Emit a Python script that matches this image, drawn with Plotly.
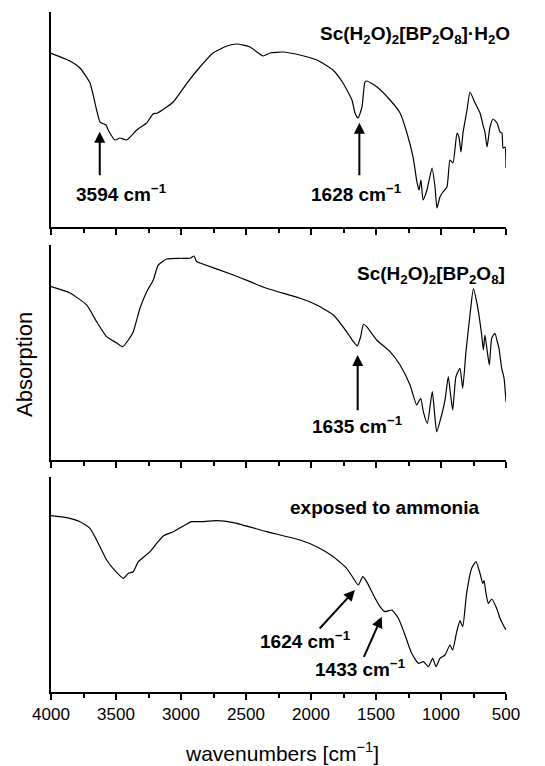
import plotly.graph_objects as go

# ---- data (wavenumber in cm^-1, absorption in arbitrary units) ----
wn_hydrate = [4000, 3854, 3777, 3700, 3649, 3623, 3577, 3560, 3508, 3470, 3418, 3341, 3264, 3215, 3180,
              3060, 2954, 2854, 2754, 2646, 2569, 2469, 2369, 2315, 2215, 2085, 1954, 1831, 1754, 1685,
              1662, 1638, 1608, 1585, 1569, 1492, 1392, 1315, 1262, 1215, 1185, 1169, 1154, 1138, 1108,
              1069, 1046, 1031, 1008, 985, 954, 931, 908, 877, 862, 846, 831, 800, 777, 738, 700, 677,
              662, 646, 623, 600, 569, 546, 531, 523, 508, 500]
ab_hydrate = [173.7, 166, 159, 144, 117, 105, 102, 97, 87, 89, 87, 97, 104, 113, 114,
              125, 144, 160, 174, 181, 183, 180, 171, 174, 175, 172, 167, 157, 144, 127,
              114, 109, 120, 145, 146, 140, 127, 114, 94, 70, 45, 37, 47, 27, 37,
              59, 40, 19, 30, 35, 40, 67, 64, 94, 90, 75, 94, 117, 135, 124, 114, 102,
              95, 80, 100, 108, 104, 95, 94, 79, 80, 59]

wn_dry = [4000, 3854, 3726, 3649, 3572, 3495, 3449, 3405, 3367, 3315, 3264, 3213, 3175, 3110, 3008,
          2931, 2900, 2880, 2854, 2597, 2341, 2085, 1956, 1828, 1726, 1674, 1644, 1618, 1597, 1572,
          1495, 1392, 1315, 1238, 1187, 1156, 1136, 1105, 1067, 1046, 1033, 995, 969, 944, 926,
          910, 885, 854, 833, 808, 777, 751, 721, 687, 674, 662, 644, 628, 610, 585, 567, 554,
          533, 515, 500]
ab_dry = [173.3, 167, 155, 138.3, 123.3, 117, 113.3, 120, 128.3, 152, 168.3, 180, 195, 201, 201.7,
          201.7, 204, 198.3, 197, 185, 171.7, 161.7, 155, 145, 128.3, 118.3, 114, 123.3, 135.7, 133.3,
          120, 108.3, 95, 75, 55, 61.7, 48.3, 36.7, 68.3, 41.7, 28.3, 45, 60, 83.3, 65,
          50, 83.3, 91.7, 71.7, 108.3, 145, 171, 155, 125, 110, 125, 108.3, 95, 121.7, 126.7, 118.3, 111.7,
          91.7, 81.7, 58.3]

wn_nh3 = [4000, 3879, 3777, 3700, 3649, 3572, 3508, 3444, 3405, 3367, 3328, 3238, 3187, 3136, 3059,
          2982, 2918, 2854, 2726, 2597, 2341, 2085, 1956, 1828, 1726, 1674, 1636, 1602, 1572, 1520,
          1469, 1431, 1379, 1328, 1277, 1226, 1174, 1136, 1097, 1064, 1038, 1008, 969, 931, 910,
          879, 854, 833, 803, 764, 731, 700, 679, 669, 654, 636, 610, 572, 546, 521, 500]
ab_nh3 = [176.3, 174.3, 170.3, 163.7, 152, 132, 121.3, 113.7, 118.7, 120.3, 130.3, 140.3, 148.7, 156, 160.3,
          166, 170.3, 170.3, 171.3, 169.3, 160.3, 152, 145.3, 135.3, 123.7, 113.7, 107, 115.3, 110.3, 97,
          85.3, 80.3, 82, 73.7, 57, 38.7, 28.7, 30.3, 25.3, 33.7, 25.3, 33.7, 37, 47, 42,
          60.3, 71.3, 65.3, 98.7, 123.7, 130.3, 118.7, 108.7, 111.3, 98.7, 88.7, 93, 83.7, 73.7, 67, 62]

tick_vals = [4000, 3500, 3000, 2500, 2000, 1500, 1000, 500]
tick_text = ["4000", "3500", "3000", "2500", "2000", "1500", "1000", "500"]

FONT = "Liberation Sans, Arial, sans-serif"

fig = go.Figure()
series = [(wn_hydrate, ab_hydrate, "x", "y"), (wn_dry, ab_dry, "x2", "y2"), (wn_nh3, ab_nh3, "x3", "y3")]
for wn, ab, xa, ya in series:
    fig.add_trace(go.Scatter(x=wn, y=ab, mode="lines",
                             line=dict(color="black", width=1.2, shape="spline", smoothing=0.5),
                             xaxis=xa, yaxis=ya, showlegend=False, hoverinfo="skip"))

domains = [[0.6838, 1.0], [0.3412, 0.6574], [0.0, 0.3162]]
xcommon = dict(range=[4000, 500], showline=True, linecolor="black", linewidth=2, ticks="outside",
               ticklen=6, tickwidth=1.5, tickcolor="black", tickvals=tick_vals, ticktext=tick_text,
               minor=dict(dtick=250, ticks="outside", ticklen=4, tickwidth=1.5, tickcolor="black"),
               showgrid=False, zeroline=False, domain=[0, 1],
               tickfont=dict(family=FONT, size=17, color="black"))
ycommon = dict(range=[0, 215], showline=True, linecolor="black", linewidth=2, ticks="",
               showticklabels=False, showgrid=False, zeroline=False)

layout = dict(width=545, height=766, margin=dict(l=51, r=39, t=12, b=74),
              plot_bgcolor="white", paper_bgcolor="white", showlegend=False)
names = [("xaxis", "yaxis", "y", "x"), ("xaxis2", "yaxis2", "y2", "x2"), ("xaxis3", "yaxis3", "y3", "x3")]
for i, (xn, yn, yref, xref) in enumerate(names):
    xa = dict(xcommon)
    xa["anchor"] = yref
    xa["showticklabels"] = (i == 2)
    ya = dict(ycommon)
    ya["anchor"] = xref
    ya["domain"] = domains[i]
    layout[xn] = xa
    layout[yn] = ya
fig.update_layout(**layout)

bold = dict(family=FONT, size=19, color="black")
title_font = dict(family=FONT, size=19, color="black")

def label(text, x, y, xref, yref, font, xanchor="center"):
    fig.add_annotation(text=text, x=x, y=y, xref=xref, yref=yref, showarrow=False,
                       font=font, xanchor=xanchor, yanchor="middle")

def arrow(xh, yh, xt, yt, xref, yref):
    fig.add_annotation(x=xh, y=yh, ax=xt, ay=yt, xref=xref, yref=yref, axref=xref, ayref=yref,
                       text="", showarrow=True, arrowhead=2, arrowsize=1.1, arrowwidth=2,
                       arrowcolor="black", standoff=0)

# panel 1
label("<b>Sc(H<sub>2</sub>O)<sub>2</sub>[BP<sub>2</sub>O<sub>8</sub>]·H<sub>2</sub>O</b>", 1.013, 192,
      "paper", "y", title_font, xanchor="right")
arrow(3625, 95.3, 3625, 50.3, "x", "y")
label("<b>3594 cm<sup>−1</sup></b>", 3456, 33.7, "x", "y", bold)
arrow(1628, 104.3, 1628, 50.3, "x", "y")
label("<b>1628 cm<sup>−1</sup></b>", 1648, 34, "x", "y", bold)

# panel 2
label("<b>Sc(H<sub>2</sub>O)<sub>2</sub>[BP<sub>2</sub>O<sub>8</sub>]</b>", 1.002, 185,
      "paper", "y2", title_font, xanchor="right")
arrow(1641, 105, 1641, 48.3, "x2", "y2")
label("<b>1635 cm<sup>−1</sup></b>", 1646, 35, "x2", "y2", bold)

# panel 3
label("<b>exposed to ammonia</b>", 1438, 184, "x3", "y3", title_font)
arrow(1662, 102, 1944, 62, "x3", "y3")
label("<b>1624 cm<sup>−1</sup></b>", 2046, 52, "x3", "y3", bold)
arrow(1456, 75.3, 1598, 33.7, "x3", "y3")
label("<b>1433 cm<sup>−1</sup></b>", 1623, 23.7, "x3", "y3", bold)

# axis titles
fig.add_annotation(text="Absorption", x=-0.057, y=0.481, xref="paper", yref="paper", showarrow=False,
                   textangle=-90, font=dict(family=FONT, size=22, color="black"),
                   xanchor="center", yanchor="middle")
fig.add_annotation(text="wavenumbers [cm<sup>−1</sup>]", x=0.507, y=-0.088, xref="paper", yref="paper",
                   showarrow=False, font=dict(family=FONT, size=21, color="black"),
                   xanchor="center", yanchor="middle")

fig.write_html("out.html")
